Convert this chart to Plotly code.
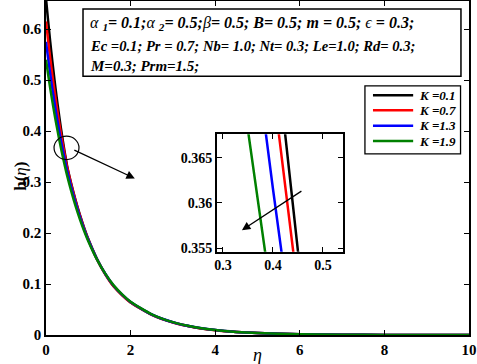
import plotly.graph_objects as go

eta = [0, 0.05, 0.1, 0.15, 0.2, 0.25, 0.3, 0.35, 0.4, 0.45, 0.5, 0.6, 0.7, 0.8, 0.9, 1.0,
       1.2, 1.4, 1.6, 1.8, 2.0, 2.5, 3.0, 3.5, 4.0, 4.5, 5.0, 6.0, 7.0, 8.0, 9.0, 10.0]

h_K01 = [0.660, 0.6160, 0.5749, 0.5366, 0.5008, 0.4674, 0.4363, 0.4072, 0.3800, 0.3547, 0.3311,
         0.2957, 0.2641, 0.2359, 0.2107, 0.1882, 0.1501, 0.1198, 0.0955, 0.0782, 0.0640,
         0.0398, 0.0248, 0.0154, 0.0096, 0.0060, 0.0037, 0.0014, 0.0005, 0.0002, 0.0001, 0.0]
h_K07 = [0.615, 0.5777, 0.5427, 0.5098, 0.4790, 0.4499, 0.4227, 0.3971, 0.3730, 0.3504, 0.3292,
         0.2940, 0.2626, 0.2346, 0.2095, 0.1871, 0.1493, 0.1191, 0.0950, 0.0778, 0.0637,
         0.0396, 0.0246, 0.0153, 0.0095, 0.0059, 0.0037, 0.0014, 0.0005, 0.0002, 0.0001, 0.0]
h_K13 = [0.575, 0.5426, 0.5120, 0.4832, 0.4559, 0.4303, 0.4060, 0.3831, 0.3616, 0.3412, 0.3219,
         0.2885, 0.2586, 0.2318, 0.2077, 0.1862, 0.1496, 0.1201, 0.0965, 0.0790, 0.0647,
         0.0402, 0.0250, 0.0156, 0.0097, 0.0060, 0.0037, 0.0014, 0.0006, 0.0002, 0.0001, 0.0]
h_K19 = [0.540, 0.5112, 0.4840, 0.4582, 0.4338, 0.4107, 0.3888, 0.3681, 0.3485, 0.3299, 0.3123,
         0.2809, 0.2526, 0.2272, 0.2044, 0.1838, 0.1487, 0.1203, 0.0973, 0.0797, 0.0652,
         0.0406, 0.0252, 0.0157, 0.0098, 0.0061, 0.0038, 0.0015, 0.0006, 0.0002, 0.0001, 0.0]

legend_labels = ["K =0.1", "K =0.7", "K =1.3", "K =1.9"]
colors = ["#000000", "#ff0000", "#0000ff", "#008000"]
series = list(zip(legend_labels, [h_K01, h_K07, h_K13, h_K19], colors))

x_ticks = [0, 2, 4, 6, 8, 10]
y_ticks = [0, 0.1, 0.2, 0.3, 0.4, 0.5, 0.6]
inset_x_ticks = [0.3, 0.4, 0.5]
inset_y_ticks = [0.355, 0.36, 0.365]

SERIF = "Liberation Serif, Times New Roman, serif"

fig = go.Figure()
for name, vals, col in series:
    fig.add_trace(go.Scatter(x=eta, y=vals, mode="lines", name=name, showlegend=False,
                             line=dict(color=col, width=2.5, shape="spline", smoothing=0.6),
                             xaxis="x", yaxis="y"))
for name, vals, col in series:
    fig.add_trace(go.Scatter(x=eta, y=vals, mode="lines", name=name, showlegend=False,
                             line=dict(color=col, width=2.5),
                             xaxis="x2", yaxis="y2"))

axis_common = dict(showline=True, linecolor="black", linewidth=1.5, mirror="ticks",
                   ticks="inside", ticklen=5, tickwidth=1.2, tickcolor="black",
                   showgrid=False, zeroline=False, automargin=False)

fig.update_layout(
    template="none",
    width=477, height=364,
    margin=dict(l=46, r=8, t=1, b=29),
    paper_bgcolor="white", plot_bgcolor="white",
    font=dict(family=SERIF, color="black"),
    xaxis=dict(range=[0, 10], tickvals=x_ticks, ticktext=[f"<b>{v}</b>" for v in x_ticks],
               tickfont=dict(size=15, family=SERIF), domain=[0, 1], **axis_common),
    yaxis=dict(range=[0, 0.655], tickvals=y_ticks,
               ticktext=["<b>0</b>"] + [f"<b>{v}</b>" for v in y_ticks[1:]],
               tickfont=dict(size=15, family=SERIF), domain=[0, 1], **axis_common),
    xaxis2=dict(range=[0.288, 0.54], tickvals=inset_x_ticks,
                ticktext=[f"<b>{v}</b>" for v in inset_x_ticks],
                tickfont=dict(size=14, family=SERIF), domain=[0.404, 0.702], anchor="y2", **axis_common),
    yaxis2=dict(range=[0.3546, 0.3676], tickvals=inset_y_ticks,
                ticktext=[f"<b>{v}</b>" for v in inset_y_ticks],
                tickfont=dict(size=14, family=SERIF), domain=[0.249, 0.601], anchor="x2", **axis_common),
    showlegend=False,
)

# legend box (drawn manually to match the long sample lines)
fig.add_shape(type="rect", xref="paper", yref="paper", x0=0.754, x1=0.980, y0=0.542, y1=0.746,
              line=dict(color="black", width=1.3), fillcolor="white", layer="above")
leg_rows = [0.7177, 0.6727, 0.6264, 0.5805]
for (name, _, col), ry in zip(series, leg_rows):
    fig.add_shape(type="line", xref="paper", yref="paper", x0=0.773, x1=0.868, y0=ry, y1=ry,
                  line=dict(color=col, width=2.5), layer="above")
    fig.add_annotation(text=f"<b><i>{name}</i></b>", xref="paper", yref="paper", x=0.876, y=ry,
                       xanchor="left", yanchor="middle", showarrow=False,
                       font=dict(size=13, family=SERIF))

# parameter box
fig.add_shape(type="rect", xref="paper", yref="paper", x0=0.0875, x1=0.981, y0=0.775, y1=0.976,
              line=dict(color="black", width=1.5), fillcolor="white", layer="above")
lines = [
    "<i>α <sub><b>1</b></sub><b>= 0.1;</b>α <sub><b>2</b></sub><b>= 0.5;</b>β<b>= 0.5; B= 0.5; m = 0.5; </b>ϵ<b> = 0.3;</b></i>",
    "<b><i>Ec =0.1; Pr = 0.7; Nb= 1.0; Nt= 0.3; Le=1.0; Rd= 0.3;</i></b>",
    "<b><i>M=0.3; Prm=1.5;</i></b>",
]
ys = [0.934, 0.866, 0.806]
sizes = [16, 14.6, 15]
for t, yy, sz in zip(lines, ys, sizes):
    fig.add_annotation(text=t, xref="paper", yref="paper", x=0.099, y=yy, xanchor="left",
                       yanchor="middle", showarrow=False, font=dict(size=sz, family=SERIF))

# axis titles
fig.add_annotation(text="<b>h(</b><i>η</i><b>)</b>", xref="paper", yref="paper", x=-0.086, y=0.474,
                   textangle=-90, showarrow=False, font=dict(size=17, family=SERIF))
fig.add_annotation(text="<i>η</i>", xref="paper", yref="paper", x=0.5, y=-0.06,
                   yanchor="middle", showarrow=False, font=dict(size=18, family=SERIF))

# zoom circle and arrows
fig.add_shape(type="circle", xref="x", yref="y", x0=0.19, x1=0.78, y0=0.344, y1=0.390,
              line=dict(color="black", width=1.2))
fig.add_annotation(x=2.10, y=0.307, xref="x", yref="y", ax=-62, ay=-29, showarrow=True,
                   arrowhead=2, arrowsize=1.3, arrowwidth=1.3, arrowcolor="black", text="")
fig.add_annotation(x=0.338, y=0.357, xref="x2", yref="y2", ax=61, ay=-40, showarrow=True,
                   arrowhead=2, arrowsize=1.3, arrowwidth=1.3, arrowcolor="black", text="")

fig.write_html("out.html", config={"displayModeBar": False},
               post_script="document.body.style.margin='0';")
